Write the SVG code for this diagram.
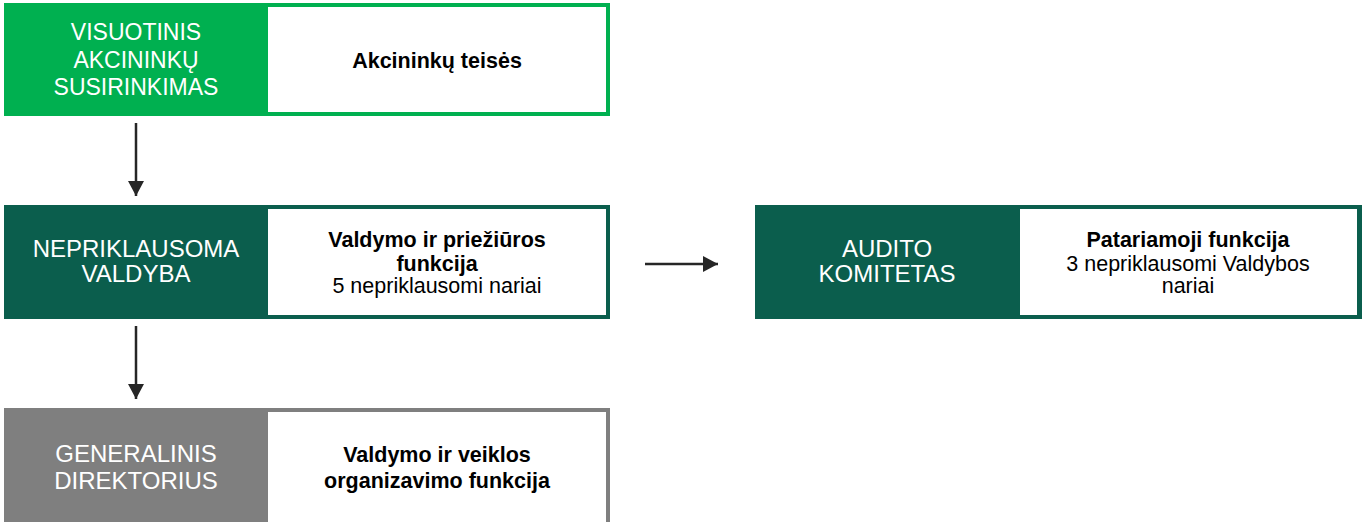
<svg xmlns="http://www.w3.org/2000/svg" width="1362" height="522" viewBox="0 0 1362 522">
<style>
.lbl{font-family:"Liberation Sans",Arial,sans-serif;font-size:24px;fill:#fff;text-anchor:middle}
.lbl1{font-size:23px}
.b{font-family:"Liberation Sans",Arial,sans-serif;font-size:21.5px;font-weight:bold;fill:#000;text-anchor:middle}
.n{font-family:"Liberation Sans",Arial,sans-serif;font-size:21.5px;fill:#000;text-anchor:middle}
.w{fill:#fff}
.con{stroke:#262626;stroke-width:2.5;fill:none}
</style>
<defs>
<marker id="ah" viewBox="0 0 15 16" refX="15" refY="8" markerWidth="15" markerHeight="16" markerUnits="userSpaceOnUse" orient="auto">
<path d="M0,0 L15,8 L0,16 z" fill="#262626"/>
</marker>
</defs>
<rect width="1362" height="522" fill="#fff"/>
<g id="node-visuotinis">
<rect x="4" y="3" width="606" height="113" fill="#00B050"/>
<rect class="w" x="268" y="7" width="338" height="105"/>
<text class="lbl lbl1" x="136" y="40">VISUOTINIS</text>
<text class="lbl lbl1" x="136" y="68">AKCININKŲ</text>
<text class="lbl lbl1" x="136" y="95">SUSIRINKIMAS</text>
<text class="b" x="437" y="68">Akcininkų teisės</text>
</g>
<g id="node-valdyba">
<rect x="4" y="205" width="606" height="114" fill="#0B5E4D"/>
<rect class="w" x="268" y="209" width="338" height="106"/>
<text class="lbl" x="136" y="257">NEPRIKLAUSOMA</text>
<text class="lbl" x="136" y="282">VALDYBA</text>
<text class="b" x="437" y="247">Valdymo ir priežiūros</text>
<text class="b" x="437" y="271">funkcija</text>
<text class="n" x="437" y="293">5 nepriklausomi nariai</text>
</g>
<g id="node-audito">
<rect x="755" y="205" width="607" height="114" fill="#0B5E4D"/>
<rect class="w" x="1020" y="209" width="337" height="106"/>
<text class="lbl" x="887" y="257">AUDITO</text>
<text class="lbl" x="887" y="282">KOMITETAS</text>
<text class="b" x="1188" y="247">Patariamoji funkcija</text>
<text class="n" x="1188" y="271">3 nepriklausomi Valdybos</text>
<text class="n" x="1188" y="293">nariai</text>
</g>
<g id="node-direktorius">
<rect x="4" y="408" width="606" height="114" fill="#7F7F7F"/>
<rect class="w" x="268" y="412" width="338" height="110"/>
<text class="lbl" x="136" y="462">GENERALINIS</text>
<text class="lbl" x="136" y="489">DIREKTORIUS</text>
<text class="b" x="437" y="462">Valdymo ir veiklos</text>
<text class="b" x="437" y="488">organizavimo funkcija</text>
</g>
<g id="connectors">
<line class="con" x1="136" y1="123" x2="136" y2="196" marker-end="url(#ah)"/>
<line class="con" x1="136" y1="326" x2="136" y2="399" marker-end="url(#ah)"/>
<line class="con" x1="645" y1="264" x2="718" y2="264" marker-end="url(#ah)"/>
</g>
</svg>
